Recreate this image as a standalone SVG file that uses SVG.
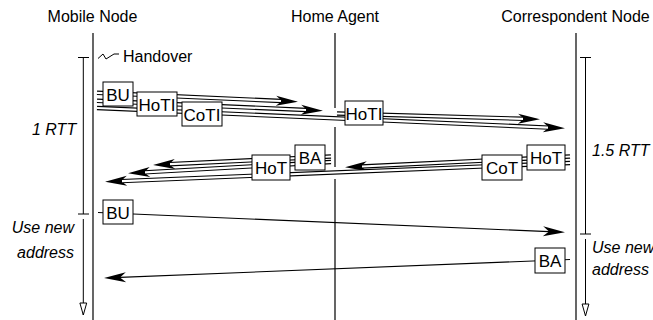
<svg xmlns="http://www.w3.org/2000/svg" width="653" height="320" viewBox="0 0 653 320">
  <defs>
    <style>
      text { font-family: "Liberation Sans", Arial, Helvetica, sans-serif; font-size: 16px; fill: #000; }
      .it { font-style: italic; }
      .mid { text-anchor: middle; }
      .end { text-anchor: end; }
      .life { stroke: #000; stroke-width: 1.2; fill: none; }
      .brk { stroke: #000; stroke-width: 1; fill: none; }
      .brk-arrow { stroke: #000; stroke-width: 1; fill: none; marker-end: url(#open); }
      .box rect { fill: #fff; stroke: #000; stroke-width: 1; }
      .box text { font-size: 17px; text-anchor: middle; }
      .tube-o { fill: none; stroke: #000; stroke-width: 4.4; marker-end: url(#head); }
      .tube-i { fill: none; stroke: #fff; stroke-width: 2.2; }
      .msg { fill: none; stroke: #000; stroke-width: 1.1; marker-end: url(#head); }
      .stub { stroke: #000; stroke-width: 1; fill: none; }
    </style>
    <!-- barbed filled arrowhead, reference point at the notch -->
    <marker id="head" markerUnits="userSpaceOnUse" orient="auto" overflow="visible" markerWidth="1" markerHeight="1">
      <path d="M0,0 L-6,-5 L16,0 L-6,5 Z" fill="#000"/>
    </marker>
    <!-- hollow triangle for the time brackets, reference point at the tip -->
    <marker id="open" markerUnits="userSpaceOnUse" orient="auto" overflow="visible" markerWidth="1" markerHeight="1">
      <path d="M0,0 L-12,-3.4 L-12,3.4 Z" fill="#fff" stroke="#000" stroke-width="1"/>
    </marker>
  </defs>

  <!-- lifelines -->
  <g id="mobile-node">
    <text class="mid" x="92.5" y="22">Mobile Node</text>
    <line class="life" x1="93" y1="33" x2="93" y2="320"/>
  </g>
  <g id="home-agent">
    <text class="mid" x="335" y="22">Home Agent</text>
    <path class="life" d="M335,33 V108 M335,127 V167 M335,179 V320"/>
  </g>
  <g id="correspondent-node">
    <text class="mid" x="575.5" y="22">Correspondent Node</text>
    <line class="life" x1="576" y1="33" x2="576" y2="320"/>
  </g>

  <!-- handover event -->
  <g id="handover">
    <path class="stub" d="M98,58.5 L103,54 L106,59 L114,54 L119,54"/>
    <text x="123" y="61.5">Handover</text>
  </g>

  <!-- time brackets -->
  <g id="brackets">
    <path class="brk" d="M78,57.5 H89 M83.3,57.5 V214 M78,214 H89"/>
    <path class="brk-arrow" d="M83.3,219 V315"/>
    <text class="it" x="32" y="135">1 RTT</text>
    <text class="it end" x="74" y="233">Use new</text>
    <text class="it end" x="74" y="258">address</text>

    <path class="brk" d="M580,57.5 H591 M585.5,57.5 V234 M580,234 H591"/>
    <path class="brk-arrow" d="M585.5,239 V316"/>
    <text class="it" x="592" y="156">1.5 RTT</text>
    <text class="it" x="592" y="253">Use new</text>
    <text class="it" x="592" y="275">address</text>
  </g>

  <!-- messages -->
  <g id="connectors">
    <!-- BU to home agent -->
    <path class="tube-o" d="M97,92.8 L282,101"/>
    <path class="tube-i" d="M97,92.8 L281,101"/>
    <!-- HoTI to home agent -->
    <path class="tube-o" d="M97,100.8 L307,110"/>
    <path class="tube-i" d="M97,100.8 L306,110"/>
    <!-- CoTI direct to correspondent -->
    <path class="tube-o" d="M97,108 L549,127.6"/>
    <path class="tube-i" d="M97,108 L548,127.6"/>
    <!-- HoTI forwarded by home agent -->
    <path class="tube-o" d="M337,113.5 L524,118.8"/>
    <path class="tube-i" d="M337,113.5 L523,118.8"/>

    <!-- HoT to home agent -->
    <path class="tube-o" d="M570,156.5 L361,166.5"/>
    <path class="tube-i" d="M570,156.5 L362,166.5"/>
    <!-- CoT direct to mobile node -->
    <path class="tube-o" d="M570,163 L121,181.1"/>
    <path class="tube-i" d="M570,163 L122,181.1"/>
    <!-- BA from home agent -->
    <path class="tube-o" d="M331,156.5 L169,164.2"/>
    <path class="tube-i" d="M331,156.5 L170,164.2"/>
    <!-- HoT forwarded by home agent -->
    <path class="tube-o" d="M331,162 L144,172.4"/>
    <path class="tube-i" d="M331,162 L145,172.4"/>

    <!-- BU to correspondent node -->
    <path class="msg" d="M98,212.5 L549,231.6"/>
    <!-- BA from correspondent node -->
    <path class="msg" d="M570,259.5 L120,277.4"/>
  </g>

  <!-- message labels -->
  <g id="bu-ha" class="box"><rect x="103" y="82" width="30" height="24"/><text x="118" y="100.5">BU</text></g>
  <g id="hoti-mn" class="box"><rect x="137" y="92" width="40" height="24"/><text x="157" y="110.5">HoTI</text></g>
  <g id="coti" class="box"><rect x="182" y="102" width="40" height="24"/><text x="202" y="120.5">CoTI</text></g>
  <g id="hoti-ha" class="box"><rect x="345" y="101" width="38" height="24"/><text x="364" y="119.5">HoTI</text></g>

  <g id="ba-ha" class="box"><rect x="295" y="145" width="30" height="25"/><text x="310" y="163.5">BA</text></g>
  <g id="hot-ha" class="box"><rect x="252" y="155" width="38" height="25"/><text x="271" y="173.5">HoT</text></g>
  <g id="cot" class="box"><rect x="482" y="155" width="40" height="25"/><text x="502" y="173.5">CoT</text></g>
  <g id="hot-cn" class="box"><rect x="527" y="145" width="38" height="25"/><text x="546" y="163.5">HoT</text></g>

  <g id="bu-cn" class="box"><rect x="103" y="200" width="30" height="24"/><text x="118" y="218.5">BU</text></g>
  <g id="ba-cn" class="box"><rect x="535" y="248" width="30" height="25"/><text x="550" y="266.5">BA</text></g>
</svg>
